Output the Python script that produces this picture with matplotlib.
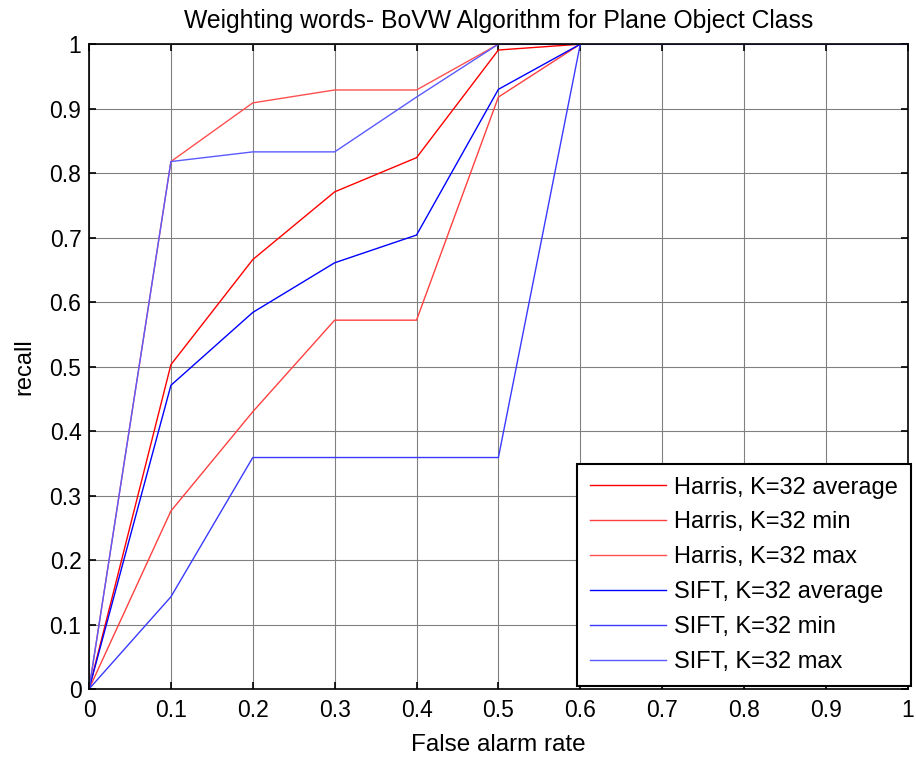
import numpy as np
import matplotlib
matplotlib.use("Agg")
import matplotlib.pyplot as plt

plt.rcParams["font.family"] = ["Liberation Sans", "DejaVu Sans"]

# false alarm rate
far = [0, 0.1, 0.2, 0.3, 0.4, 0.5, 0.6, 0.7, 0.8, 0.9, 1.0]

harris_avg = [0, 0.503, 0.666, 0.771, 0.824, 0.991, 1, 1, 1, 1, 1]
harris_min = [0, 0.276, 0.430, 0.572, 0.572, 0.918, 1, 1, 1, 1, 1]
harris_max = [0, 0.818, 0.909, 0.929, 0.929, 1, 1, 1, 1, 1, 1]
sift_avg = [0, 0.471, 0.584, 0.661, 0.704, 0.930, 1, 1, 1, 1, 1]
sift_min = [0, 0.143, 0.359, 0.359, 0.359, 0.359, 1, 1, 1, 1, 1]
sift_max = [0, 0.818, 0.833, 0.833, 0.918, 1, 1, 1, 1, 1, 1]

series = [
    ("Harris, K=32 average", harris_avg, "#ff0000"),
    ("Harris, K=32 min", harris_min, "#ff4040"),
    ("Harris, K=32 max", harris_max, "#ff5050"),
    ("SIFT, K=32 average", sift_avg, "#0000ff"),
    ("SIFT, K=32 min", sift_min, "#3a3aff"),
    ("SIFT, K=32 max", sift_max, "#5a5aff"),
]

tick_txt = ["0", "0.1", "0.2", "0.3", "0.4", "0.5", "0.6", "0.7", "0.8", "0.9", "1"]

fig = plt.figure(figsize=(9.16, 7.62), dpi=100)
ax = fig.add_axes([0.0972, 0.0958, 0.8938, 0.8462])

for name, vals, col in series:
    ax.plot(far, vals, color=col, linewidth=1.0, label=name)

ax.set_xlim(0, 1)
ax.set_ylim(0, 1)
ax.set_xticks(np.arange(0, 1.01, 0.1))
ax.set_yticks(np.arange(0, 1.01, 0.1))
ax.set_xticklabels(tick_txt)
ax.set_yticklabels(tick_txt)
ax.tick_params(direction="in", top=True, right=True, labelsize=16.5, length=5, width=1.2)
ax.tick_params(axis="x", pad=7)
ax.tick_params(axis="y", pad=5.5)
ax.grid(True, color="#808080", linewidth=0.8)
ax.set_axisbelow(True)
for sp in ax.spines.values():
    sp.set_linewidth(1.2)

ax.set_title("Weighting words- BoVW Algorithm for Plane Object Class", fontsize=17.8, pad=12)
ax.set_xlabel("False alarm rate", fontsize=17.5, labelpad=9)
ax.set_ylabel("recall", fontsize=17, labelpad=10)

leg = ax.legend(loc="lower right", bbox_to_anchor=(1.004, 0.004), fontsize=17,
                handlelength=3.2, handletextpad=0.35, labelspacing=0.55,
                fancybox=False, framealpha=1, edgecolor="black",
                borderaxespad=0, borderpad=0.55)
leg.get_frame().set_linewidth(1.5)

fig.savefig("out.png", dpi=100)
